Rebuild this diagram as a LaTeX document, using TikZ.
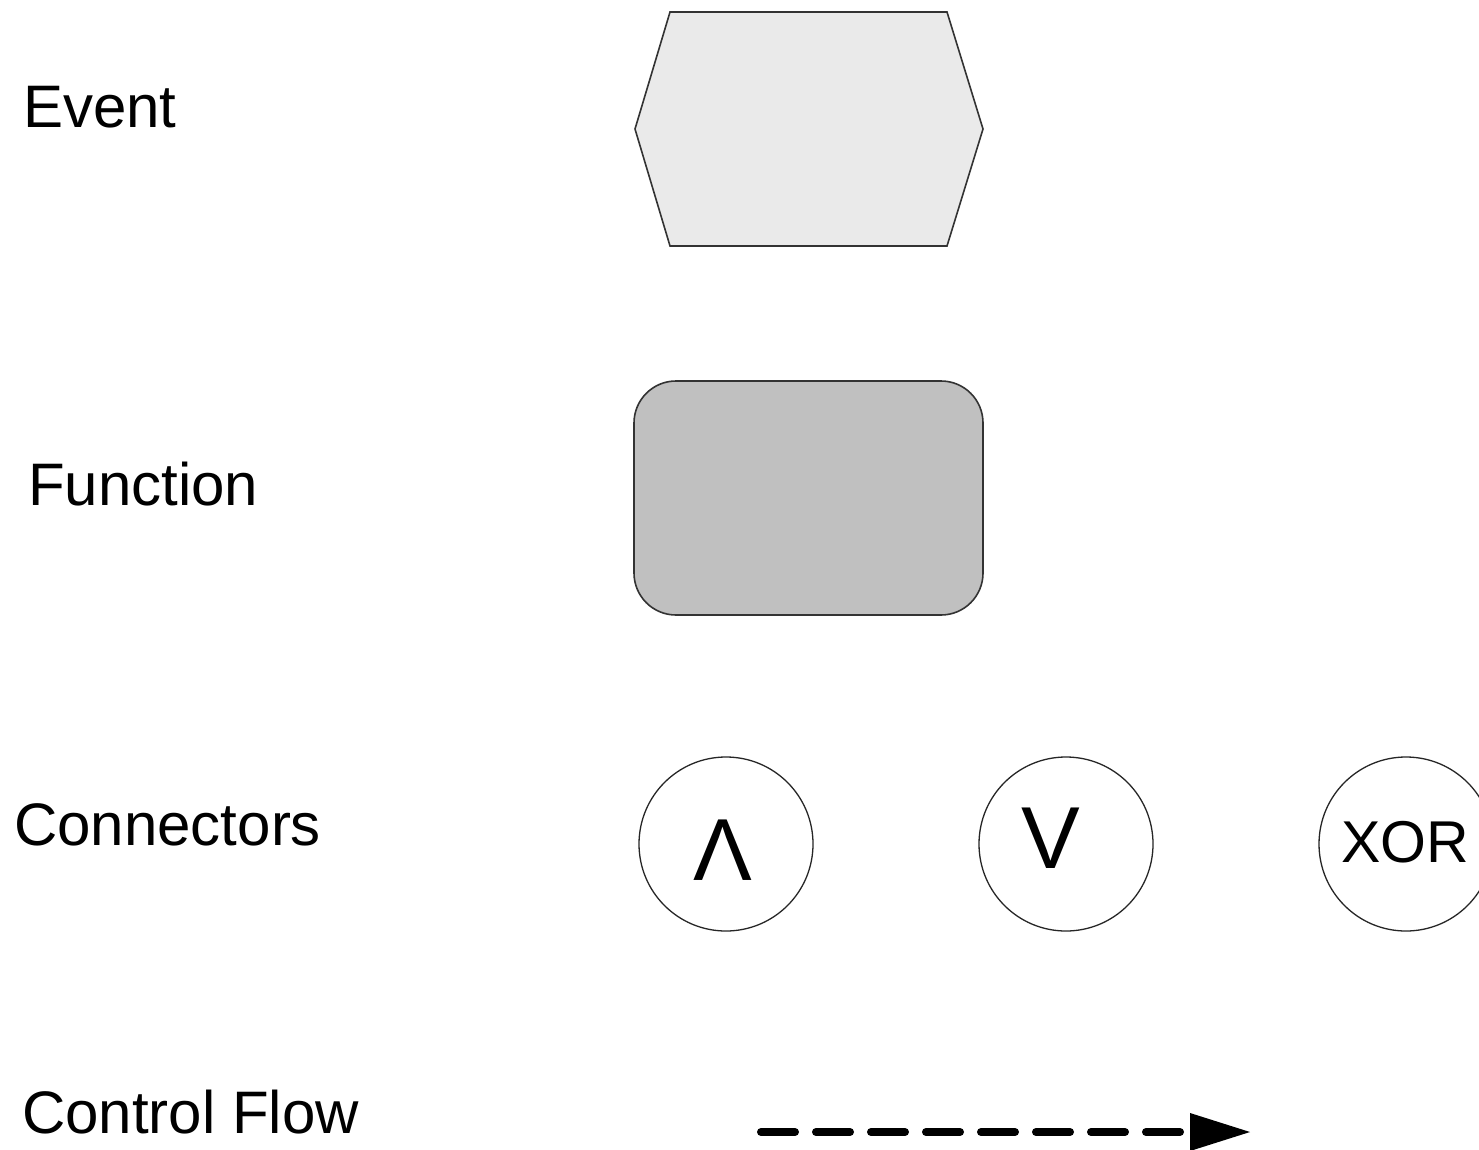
\documentclass[tikz,border=0pt]{standalone}
\usepackage{fontspec}
\setmainfont{Liberation Sans}
\usetikzlibrary{arrows.meta}
\definecolor{evfill}{HTML}{EAEAEA}
\definecolor{fnfill}{HTML}{C0C0C0}
\definecolor{edge}{HTML}{333333}
\begin{document}
\begin{tikzpicture}[x=1pt,y=-1pt,
  lbl/.style={anchor=base west,inner sep=0pt,font=\fontsize{60}{72}\selectfont},
  evshape/.style={draw=edge,fill=evfill,line width=1.6pt,line join=miter},
  fnbox/.style={draw=edge,fill=fnfill,line width=1.6pt,rounded corners=42pt,
    minimum width=349pt,minimum height=234pt,inner sep=0pt},
  conn/.style={circle,draw=black!85,line width=1.3pt,minimum size=174pt,inner sep=0pt},
  sym/.style={anchor=base,inner sep=0pt,font=\fontsize{88}{100}\selectfont},
  xortxt/.style={anchor=base,inner sep=0pt,font=\fontsize{59}{70}\selectfont},
  flow/.style={line width=8pt,line cap=round,dash pattern=on 34pt off 21pt,
    -{Triangle[length=60pt,width=38pt,line width=0pt]}}
]
\clip (0,0) rectangle (1479,1150);
\fill[white] (0,0) rectangle (1479,1150);

% labels
\node[lbl] (lev) at (23,128) {Event};
\node[lbl] (lfn) at (28,505) {Function};
\node[lbl] (lcn) at (14,845) {Connectors};
\node[lbl] (lcf) at (22,1133) {Control Flow};

% event hexagon
\draw[evshape] (670,12) -- (947,12) -- (983,129) -- (947,246) -- (670,246) -- (635,129) -- cycle;
\coordinate (ev) at (809,129);

% function
\node[fnbox] (fn) at (808.5,498) {};

% connectors
\node[conn] (and) at (726,844) {};
\node[conn] (or) at (1066,844) {};
\node[conn] (xor) at (1406,844) {};
\node[sym] (andt) at (723,880) {Λ};
\node[sym] (ort) at (1051,868) {V};
\node[xortxt] (xort) at (1405,862) {XOR};

% control flow
\coordinate (cfs) at (761,1132);
\coordinate (cfe) at (1250,1132);
\draw[flow] (cfs) -- (cfe);
\end{tikzpicture}
\end{document}
